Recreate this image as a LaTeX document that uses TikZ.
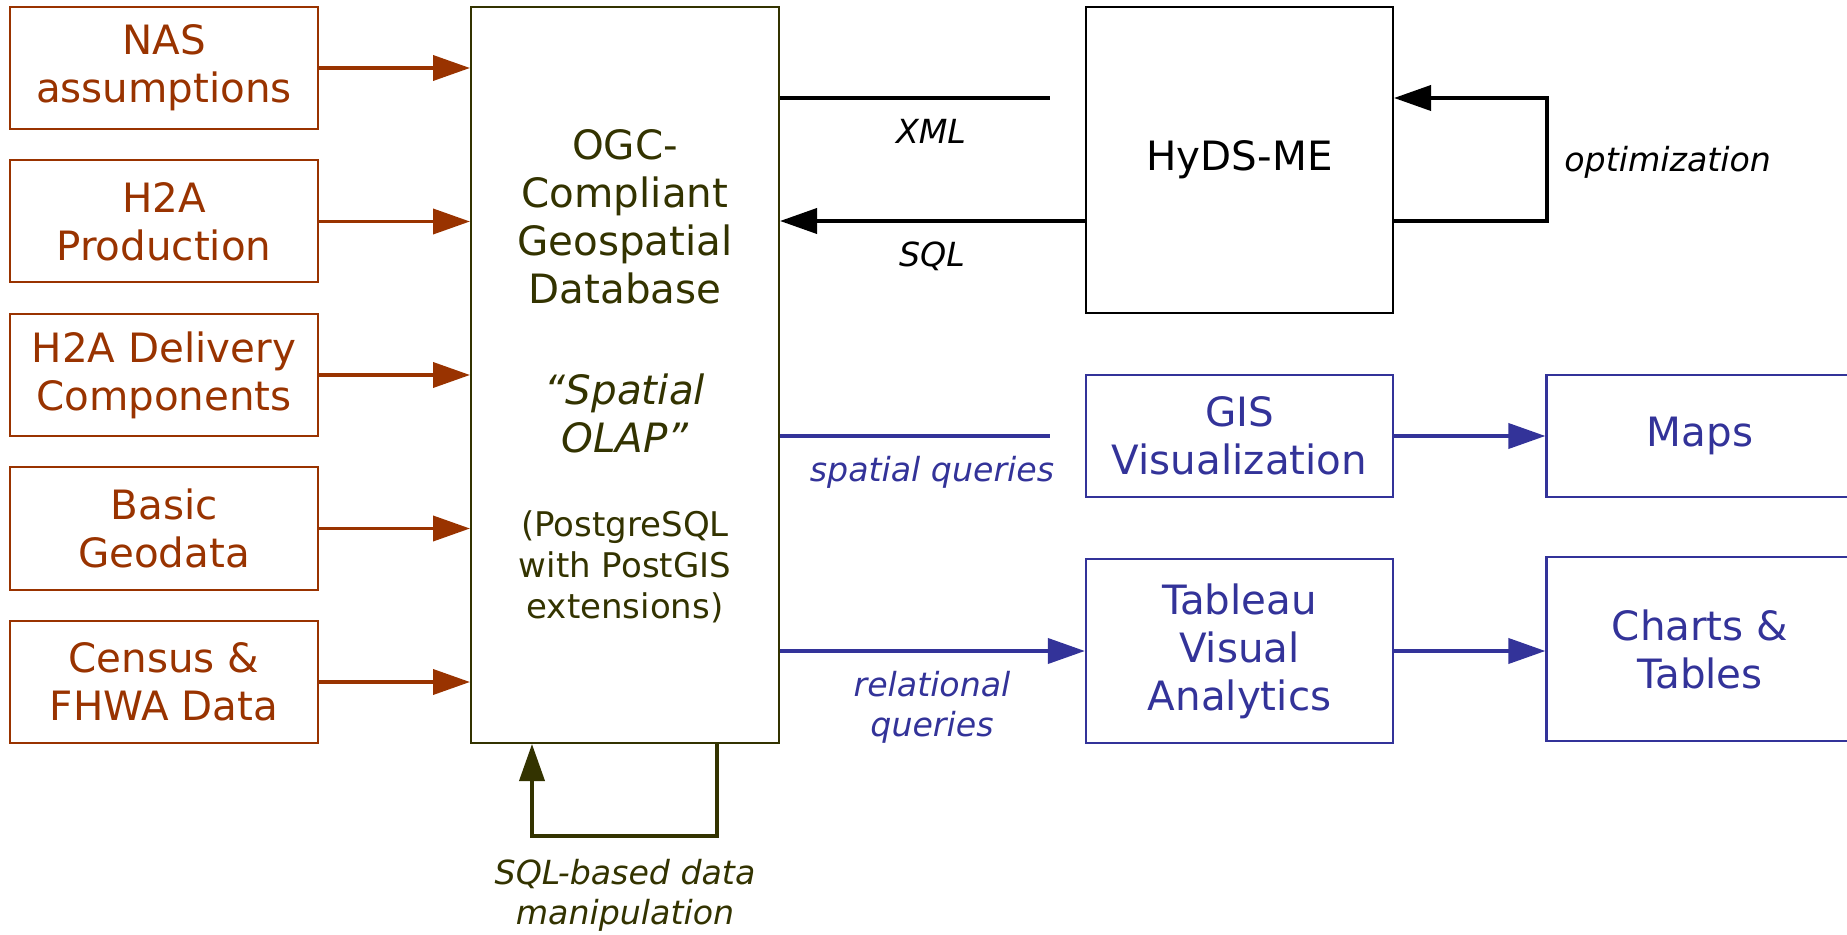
\documentclass[tikz,border=0pt]{standalone}
\usepackage{fontspec}
\setmainfont{DejaVu Sans}
\usetikzlibrary{arrows.meta,positioning}

\definecolor{rust}{HTML}{993300}
\definecolor{dbgreen}{HTML}{333300}
\definecolor{qblue}{HTML}{333399}

\tikzset{
  bigfont/.style={font=\fontsize{20.2}{24}\selectfont},
  lblfont/.style={font=\fontsize{16.6}{20}\selectfont\itshape},
  srcbox/.style={draw=rust, text=rust, line width=1pt, minimum width=154pt,
    minimum height=61pt, align=center, inner sep=0pt, bigfont},
  qbox/.style={draw=qblue, text=qblue, line width=1.1pt, minimum width=153.5pt,
    align=center, inner sep=0pt, bigfont},
  srcarrow/.style={draw=rust, line width=1.9pt,
    -{Triangle[length=18.5pt,width=12.5pt]}},
  blkline/.style={draw=black, line width=1.9pt},
  blkarrow/.style={blkline, -{Triangle[length=18.5pt,width=12.5pt]}},
  qline/.style={draw=qblue, line width=1.9pt},
  qarrow/.style={qline, -{Triangle[length=18.5pt,width=12.5pt]}},
  dbarrow/.style={draw=dbgreen, line width=1.9pt,
    -{Triangle[length=18.5pt,width=12.5pt]}},
}

\begin{document}
\begin{tikzpicture}[x=0.5pt,y=-0.5pt]
\useasboundingbox (0,0) rectangle (1847,935);

% input data sources
\node[srcbox] (nas)      at (164,68)    {NAS\\assumptions};
\node[srcbox] (prod)     at (164,221.5) {H2A\\Production};
\node[srcbox] (delivery) at (164,375)   {H2A Delivery\\Components};
\node[srcbox] (geodata)  at (164,528.5) {Basic\\Geodata};
\node[srcbox] (census)   at (164,682)   {Census \&\\FHWA Data};

% geospatial database
\node[draw=dbgreen, line width=1pt, minimum width=154pt, minimum height=368pt]
  (db) at (625,375) {};
\node[text=dbgreen, align=center, bigfont] (dbname) at (625,217)
  {OGC-\\Compliant\\Geospatial\\Database};
\node[text=dbgreen, align=center, font=\fontsize{20.2}{24}\selectfont\itshape]
  (olap) at (625,413) {``Spatial\\OLAP''};
\node[text=dbgreen, align=center, font=\fontsize{17}{20.5}\selectfont] (pgsql)
  at (625,567) {(PostgreSQL\\with PostGIS\\extensions)};

% model and visualization tools
\node[draw=black, line width=1pt, minimum width=153.5pt, minimum height=153pt,
  bigfont] (hyds) at (1239.5,160) {HyDS-ME};
\node[qbox, minimum height=61pt] (gis)     at (1239.5,436) {GIS\\Visualization};
\node[qbox, minimum height=92pt] (tableau) at (1239.5,651) {Tableau\\Visual\\Analytics};
\node[qbox, minimum height=61pt] (maps)    at (1700,436)   {Maps};
\node[qbox, minimum height=92pt] (charts)  at (1700,649)   {Charts \&\\Tables};

% inputs into the database
\draw[srcarrow] (nas.east)      -- (nas.east -| db.west);
\draw[srcarrow] (prod.east)     -- (prod.east -| db.west);
\draw[srcarrow] (delivery.east) -- (delivery.east -| db.west);
\draw[srcarrow] (geodata.east)  -- (geodata.east -| db.west);
\draw[srcarrow] (census.east)   -- (census.east -| db.west);

% database <-> HyDS-ME
\coordinate (xmlend) at ([xshift=-17.5pt,yshift=31pt]hyds.west);
\draw[blkline] (xmlend -| db.east) -- (xmlend);
\draw[blkarrow] ([yshift=-30.5pt]hyds.west) -- ([yshift=-30.5pt]hyds.west -| db.east);
\draw[blkarrow] ([yshift=-30.5pt]hyds.east) -- ++(153,0) |- ([yshift=31pt]hyds.east);
\node[lblfont] (xmllbl) at (931,131) {XML};
\node[lblfont] (sqllbl) at (932,256) {SQL};
\node[lblfont, anchor=west, inner sep=0pt] (optlbl) at (1564,162) {optimization};

% queries
\coordinate (spend) at ([xshift=-17.5pt]gis.west);
\draw[qline] (spend -| db.east) -- (spend);
\draw[qarrow] (db.east |- tableau.west) -- (tableau.west);
\draw[qarrow] (gis) -- (maps);
\draw[qarrow] (tableau.east) -- (tableau.east -| charts.west);
\node[lblfont, text=qblue] (splbl) at (932,472) {spatial queries};
\node[lblfont, text=qblue, align=center] (rellbl) at (932,707) {relational\\queries};

% data manipulation loop
\draw[dbarrow] ([xshift=46pt]db.south) -- ++(0,92) -| ([xshift=-46.5pt]db.south);
\node[lblfont, text=dbgreen, align=center] (sqlman) at (625,895)
  {SQL-based data\\manipulation};

\end{tikzpicture}
\end{document}
